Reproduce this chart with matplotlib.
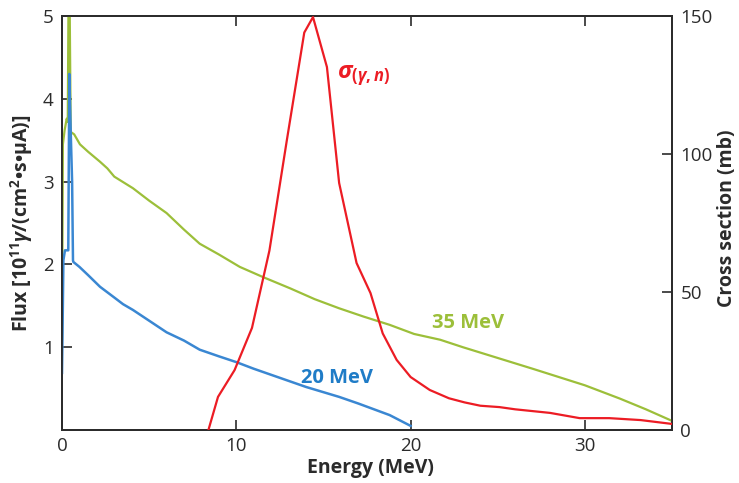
import matplotlib
matplotlib.use("Agg")
import matplotlib.pyplot as plt

plt.rcParams['font.family'] = ['Open Sans', 'DejaVu Sans']
plt.rcParams['mathtext.fontset'] = 'custom'
plt.rcParams['mathtext.rm'] = 'Open Sans:bold'
plt.rcParams['mathtext.it'] = 'Open Sans:italic:bold'
plt.rcParams['mathtext.bf'] = 'Open Sans:bold'

# 20 MeV bremsstrahlung flux (10^11 gamma/(cm^2 s uA))
e20 = [0.0, 0.03, 0.08, 0.17, 0.36, 0.42, 0.5, 0.58, 0.63, 0.65, 1.0, 1.5, 2.18, 3.0, 3.5,
       4.07, 5.0, 6.0, 7.0, 7.9, 9.0, 10.0, 11.0, 12.5, 14.0, 15.9, 17.0, 18.8, 20.0]
f20 = [0.69, 1.17, 2.05, 2.17, 2.17, 4.3, 3.6, 3.0, 2.05, 2.03, 1.97, 1.87, 1.73, 1.6, 1.52,
       1.45, 1.32, 1.18, 1.08, 0.97, 0.89, 0.82, 0.74, 0.63, 0.52, 0.40, 0.32, 0.18, 0.05]

# 35 MeV bremsstrahlung flux
e35 = [0.0, 0.05, 0.15, 0.27, 0.33, 0.38, 0.43, 0.5, 0.7, 1.03, 1.5, 2.18, 2.6, 3.0, 4.07,
       5.0, 6.0, 7.0, 7.9, 9.0, 10.2, 11.5, 13.1, 14.5, 15.9, 17.3, 18.8, 20.2, 21.7,
       23.0, 25.0, 27.0, 28.5, 30.0, 32.0, 33.5, 35.0]
f35 = [1.1, 3.45, 3.62, 3.76, 3.72, 5.4, 5.4, 3.6, 3.57, 3.45, 3.36, 3.24, 3.16, 3.06, 2.92,
       2.77, 2.62, 2.42, 2.25, 2.12, 1.97, 1.85, 1.71, 1.58, 1.47, 1.37, 1.27, 1.16, 1.09,
       1.0, 0.87, 0.74, 0.64, 0.54, 0.38, 0.25, 0.11]

# (gamma,n) cross section (mb)
es = [8.4, 8.95, 9.9, 10.9, 11.9, 12.9, 13.9, 14.4, 15.2, 15.9, 16.9, 17.7, 18.4, 19.2,
      20.0, 21.1, 22.2, 23.1, 24.0, 25.1, 26.0, 28.0, 29.7, 31.4, 33.2, 35.0]
sig = [0.0, 12.0, 21.7, 37.0, 65.0, 105.0, 144.0, 149.6, 131.5, 89.5, 60.5, 49.6, 35.0, 25.4,
       19.2, 14.5, 11.5, 10.0, 8.8, 8.3, 7.5, 6.2, 4.3, 4.3, 3.6, 2.2]

blue = '#3a87d2'
green = '#9cbf3a'
red = '#ec1c24'
dark = '#2b2b2b'

fig = plt.figure(figsize=(7.39, 4.83), dpi=100)
ax = fig.add_axes([0.0839, 0.1097, 0.8255, 0.8572])
ax.plot(e35, f35, color=green, lw=1.6, zorder=3)
ax.plot(e20, f20, color=blue, lw=1.8, zorder=4)
ax.set_xlim(0, 35)
ax.set_ylim(0, 5)
ax.set_xticks([0, 10, 20, 30])
ax.set_yticks([1, 2, 3, 4, 5])

ax2 = ax.twinx()
ax2.plot(es, sig, color=red, lw=1.6, zorder=5)
ax2.set_ylim(0, 150)
ax2.set_yticks([0, 50, 100, 150])

for a in (ax, ax2):
    for s in a.spines.values():
        s.set_linewidth(1.3)
        s.set_color(dark)
ax.tick_params(axis='both', direction='in', length=7, width=1.2, colors=dark,
               labelsize=13.5, pad=6, top=True)
ax.tick_params(axis='x', pad=5)
ax2.tick_params(axis='y', direction='in', length=7, width=1.2, colors=dark,
                labelsize=13.5, pad=6)

fig.text(370 / 739, 1 - 468 / 483, 'Energy (MeV)', fontsize=14, fontweight='bold',
         color=dark, ha='center', va='center')
fig.text(22 / 739, 1 - 223 / 483, r'Flux [10$^{11}$$\gamma$/(cm$^{2}$•s•μA)]', fontsize=14,
         fontweight='bold', color=dark, ha='center', va='center', rotation=90)
fig.text(727 / 739, 1 - 218 / 483, 'Cross section (mb)', fontsize=14, fontweight='bold',
         color=dark, ha='center', va='center', rotation=90)

ax.text(15.8, 0.63, '20 MeV', color='#1f7cc7', fontsize=14.5, fontweight='bold',
        ha='center', va='center')
ax.text(23.3, 1.29, '35 MeV', color=green, fontsize=14.5, fontweight='bold',
        ha='center', va='center')
ax2.text(17.3, 128.5, r'$\sigma_{(\gamma,n)}$', color=red, fontsize=17,
         ha='center', va='center')

fig.savefig('out.png', dpi=100)
